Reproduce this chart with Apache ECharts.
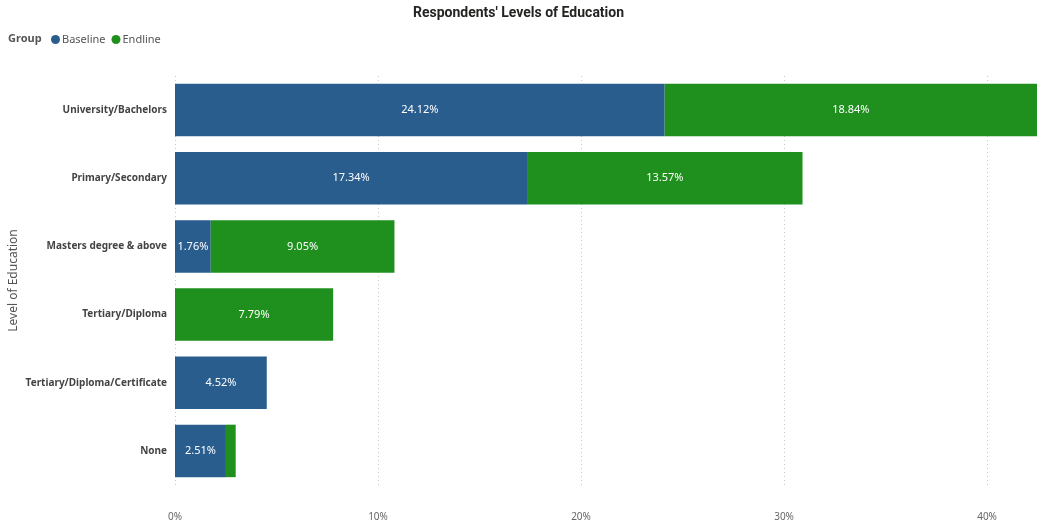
<!DOCTYPE html>
<html>
<head>
<meta charset="utf-8">
<script src="https://cdn.jsdelivr.net/npm/echarts@6/dist/echarts.min.js"></script>
<style>
  html, body { margin: 0; padding: 0; background: #fff; }
  #chart { width: 1037px; height: 523px; }
</style>
</head>
<body>
<div id="chart"></div>
<script>
// Education levels, listed top to bottom
const categories = [
  'University/Bachelors',
  'Primary/Secondary',
  'Masters degree & above',
  'Tertiary/Diploma',
  'Tertiary/Diploma/Certificate',
  'None'
];
// Share of respondents (%) per group
const baseline = [24.12, 17.34, 1.76, null, 4.52, 2.51];
const endline  = [18.84, 13.57, 9.05, 7.79, null, 0.48];
const xTicks = [0, 10, 20, 30, 40];

const BLUE = '#295d8e';
const GREEN = '#1f901d';
const FONT = '"Noto Sans", "Open Sans", sans-serif';

const chart = echarts.init(document.getElementById('chart'));

function seriesFor(name, values, color) {
  return {
    name: name,
    type: 'bar',
    stack: 'total',
    barCategoryGap: '23%',
    itemStyle: { color: color },
    label: {
      show: true,
      position: 'inside',
      color: '#ffffff',
      fontFamily: FONT,
      fontSize: 11,
      formatter: p => (p.value == null || p.value < 1) ? '' : p.value.toFixed(2) + '%'
    },
    data: values
  };
}

chart.setOption({
  animation: false,
  title: {
    text: "Respondents' Levels of Education",
    left: 'center',
    top: 1,
    textStyle: { fontFamily: 'Roboto, sans-serif', fontWeight: 'bold', fontSize: 14, color: '#252423' }
  },
  graphic: [{
    type: 'text',
    left: 8,
    top: 33,
    style: { text: 'Group', fontFamily: FONT, fontWeight: 'bold', fontSize: 11, fill: '#555' }
  }],
  legend: {
    left: 46,
    top: 29,
    icon: 'circle',
    itemWidth: 9,
    itemHeight: 9,
    itemGap: 6,
    textStyle: { fontFamily: FONT, fontSize: 11, color: '#555', padding: [0, 0, 0, -3] },
    data: ['Baseline', 'Endline']
  },
  grid: { left: 175, right: 0, top: 76, bottom: 38, containLabel: false, outerBoundsMode: 'none' },
  xAxis: {
    type: 'value',
    min: xTicks[0],
    max: 42.46,
    interval: 10,
    axisLine: { show: false },
    axisTick: { show: false },
    splitLine: { show: true, lineStyle: { type: [1, 3], color: '#c8c8c8' } },
    axisLabel: {
      showMaxLabel: false,
      color: '#666',
      fontFamily: FONT,
      fontSize: 10,
      margin: 27,
      formatter: v => xTicks.includes(v) ? v + '%' : ''
    }
  },
  yAxis: {
    type: 'category',
    inverse: true,
    data: categories,
    name: 'Level of Education',
    nameLocation: 'middle',
    nameGap: 155,
    nameMoveOverlap: false,
    nameRotate: 90,
    nameTextStyle: { fontFamily: FONT, fontSize: 12, color: '#555' },
    axisLine: { show: false },
    axisTick: { show: false },
    axisLabel: { color: '#444', fontFamily: FONT, fontWeight: 'bold', fontSize: 10, margin: 8 }
  },
  series: [
    seriesFor('Baseline', baseline, BLUE),
    seriesFor('Endline', endline, GREEN)
  ]
});
</script>
</body>
</html>
